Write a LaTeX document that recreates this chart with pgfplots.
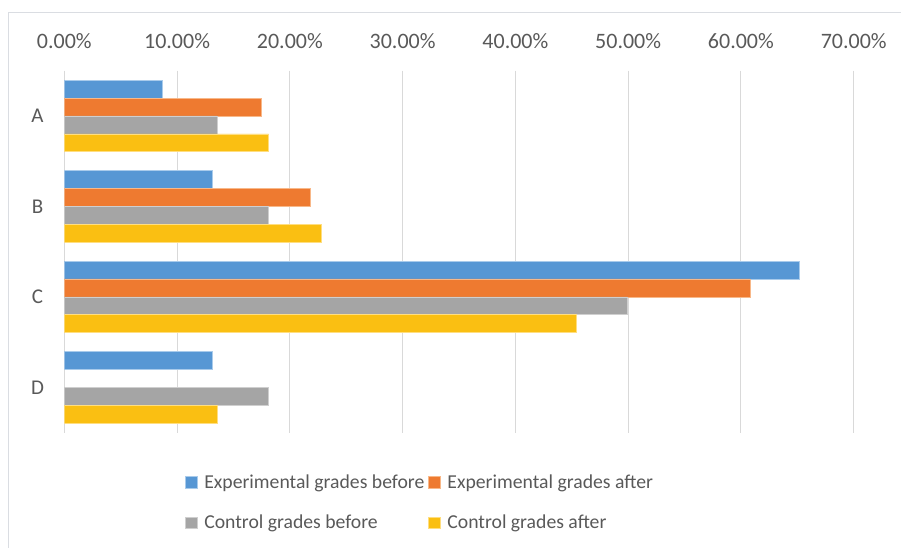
\documentclass[border=0pt]{standalone}
\usepackage{fontspec}
\setmainfont{Carlito}
\usepackage{pgfplots}
\pgfplotsset{compat=1.18}

\definecolor{txt}{HTML}{595959}
\definecolor{gridc}{HTML}{D9D9D9}
\definecolor{frame}{HTML}{DADDE2}
\definecolor{blueF}{HTML}{5797D4}
\definecolor{blueE}{HTML}{A9CBEB}
\definecolor{orF}{HTML}{EE7A30}
\definecolor{orE}{HTML}{F8B889}
\definecolor{grF}{HTML}{A5A5A5}
\definecolor{grE}{HTML}{CFCFCF}
\definecolor{yeF}{HTML}{FABF12}
\definecolor{yeE}{HTML}{FFDE80}

\begin{document}
\begin{tikzpicture}
\useasboundingbox (-64.3pt,-115.5pt) rectangle (836.7pt,432.5pt);
\draw[frame, line width=1pt] (-55.8pt,-116pt) -- (-55.8pt,420pt) -- (837pt,420pt);
\begin{axis}[
    at={(0pt,0pt)}, anchor=south west,
    scale only axis,
    width=789.4pt, height=361.8pt,
    xmin=0, xmax=70,
    ymin=-0.5, ymax=3.5,
    y dir=reverse,
    xbar, bar width=17.9pt,
    xtick={0,10,...,70},
    xticklabel pos=upper,
    xticklabel={\pgfmathprintnumber[fixed,fixed zerofill,precision=2]{\tick}\%},
    /pgf/number format/assume math mode=true,
    ytick={0,1,2,3}, yticklabels={A,B,C,D},
    major tick length=0pt,
    axis line style={draw=none},
    xmajorgrids, grid style={gridc, line width=1pt},
    xticklabel style={font=\fontsize{22}{26}\selectfont, text=txt, anchor=base, yshift=22.4pt},
    yticklabel style={font=\fontsize{21}{25}\selectfont, text=txt, anchor=center, xshift=-26.8pt},
    legend columns=2,
    legend cell align=left,
    legend style={draw=none, fill=none, inner sep=0pt, at={(axis description cs:0.1529,-0.111)}, anchor=north west,
      font=\fontsize{19.7}{23}\selectfont, text=txt, row sep=21pt,
      /tikz/every odd column/.append style={column sep=5pt},
      /tikz/every even column/.append style={column sep=2pt}},
    legend image code/.code={\path[#1] (0pt,-5.7pt) rectangle (11.5pt,5.7pt);},
]
\addplot[bar shift=26.85pt, fill=blueF, draw=blueE, line width=0.6pt] coordinates {
  (8.72,0) (13.1,1) (65.2,2) (13.1,3)
};
\addlegendentry{Experimental grades before}
\addplot[bar shift=8.95pt, fill=orF, draw=orE, line width=0.6pt] coordinates {
  (17.44,0) (21.8,1) (60.8,2)
};
\addlegendentry{Experimental grades after}
\addplot[bar shift=-8.95pt, fill=grF, draw=grE, line width=0.6pt] coordinates {
  (13.56,0) (18.1,1) (49.95,2) (18.1,3)
};
\addlegendentry{Control grades before}
\addplot[bar shift=-26.85pt, fill=yeF, draw=yeE, line width=0.6pt] coordinates {
  (18.12,0) (22.8,1) (45.4,2) (13.56,3)
};
\addlegendentry{Control grades after}
\end{axis}
\end{tikzpicture}
\end{document}
